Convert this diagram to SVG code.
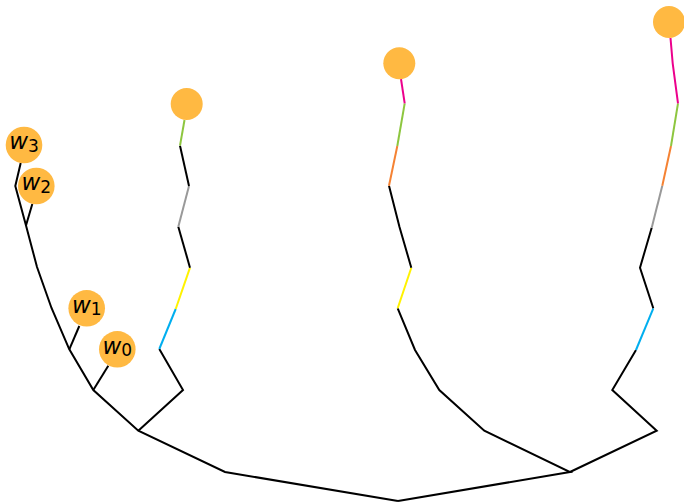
<svg xmlns="http://www.w3.org/2000/svg" width="684" height="502" viewBox="0 0 684 502">
<style>
.e{fill:none;stroke-width:2;stroke-linecap:butt;stroke-linejoin:miter}
.k{stroke:#000}
.g{stroke:#8DC63F}
.m{stroke:#EC008C}
.o{stroke:#F58233}
.y{stroke:#FFF200}
.b{stroke:#00AEEF}
.r{stroke:#999999}
.n{fill:#FFB942}
.t{font-family:"DejaVu Sans",sans-serif;font-size:23px;fill:#000;text-anchor:middle}
.t .w{font-style:italic}
.t .s{font-size:17px}
</style>
<rect width="684" height="502" fill="#fff"/>
<g id="connectors">
<polyline class="e k" points="398,501 225,472 138.3,430.7 93.3,390 69.3,349.3 51.5,308 37,267 26,225.5 15.3,186 20.7,163"/>
<polyline class="e k" points="26,225.5 32.3,204"/>
<polyline class="e k" points="69.3,349.3 79.3,326"/>
<polyline class="e k" points="93.3,390 108.3,365.7"/>
<polyline class="e k" points="138.3,430.7 183,390 159.3,349"/>
<polyline class="e b" points="159.3,349 175.7,309"/>
<polyline class="e y" points="175.7,309 190,267.7"/>
<polyline class="e k" points="190,267.7 178.3,226.7"/>
<polyline class="e r" points="178.3,226.7 189,186"/>
<polyline class="e k" points="189,186 180,145.7"/>
<polyline class="e g" points="180,145.7 184.5,120"/>
<polyline class="e k" points="398,501 570,472 484.3,430.7 439.3,390 415,350 397.7,308.3"/>
<polyline class="e y" points="397.7,308.3 411.3,267.7"/>
<polyline class="e k" points="411.3,267.7 399.5,227 389,185.7"/>
<polyline class="e o" points="389,185.7 397.3,146"/>
<polyline class="e g" points="397.3,146 404.7,103.3"/>
<polyline class="e m" points="404.7,103.3 401,79"/>
<polyline class="e k" points="570,472 656.7,430.7 612.3,390 636,350"/>
<polyline class="e b" points="636,350 653.3,308.3"/>
<polyline class="e k" points="653.3,308.3 640,267.7 651.7,227.7"/>
<polyline class="e r" points="651.7,227.7 662.3,185.7"/>
<polyline class="e o" points="662.3,185.7 671,146"/>
<polyline class="e g" points="671,146 678,103.3"/>
<polyline class="e m" points="678,103.3 672.7,63.3 670.5,38"/>
</g>
<g id="w3"><circle class="n" cx="24" cy="145" r="18.3"/><text class="t" x="24" y="149.4"><tspan class="w">w</tspan><tspan class="s" dy="2.6">3</tspan></text></g>
<g id="w2"><circle class="n" cx="36.3" cy="186" r="18.3"/><text class="t" x="36.3" y="190.4"><tspan class="w">w</tspan><tspan class="s" dy="2.6">2</tspan></text></g>
<g id="w1"><circle class="n" cx="86.7" cy="308.3" r="18.3"/><text class="t" x="86.7" y="312.7"><tspan class="w">w</tspan><tspan class="s" dy="2.6">1</tspan></text></g>
<g id="w0"><circle class="n" cx="117.3" cy="349.3" r="18.3"/><text class="t" x="117.3" y="353.7"><tspan class="w">w</tspan><tspan class="s" dy="2.6">0</tspan></text></g>
<g id="leaf1"><circle class="n" cx="186.7" cy="104" r="16"/></g>
<g id="leaf2"><circle class="n" cx="399.3" cy="63.3" r="16"/></g>
<g id="leaf3"><circle class="n" cx="669" cy="22" r="16"/></g>
</svg>
